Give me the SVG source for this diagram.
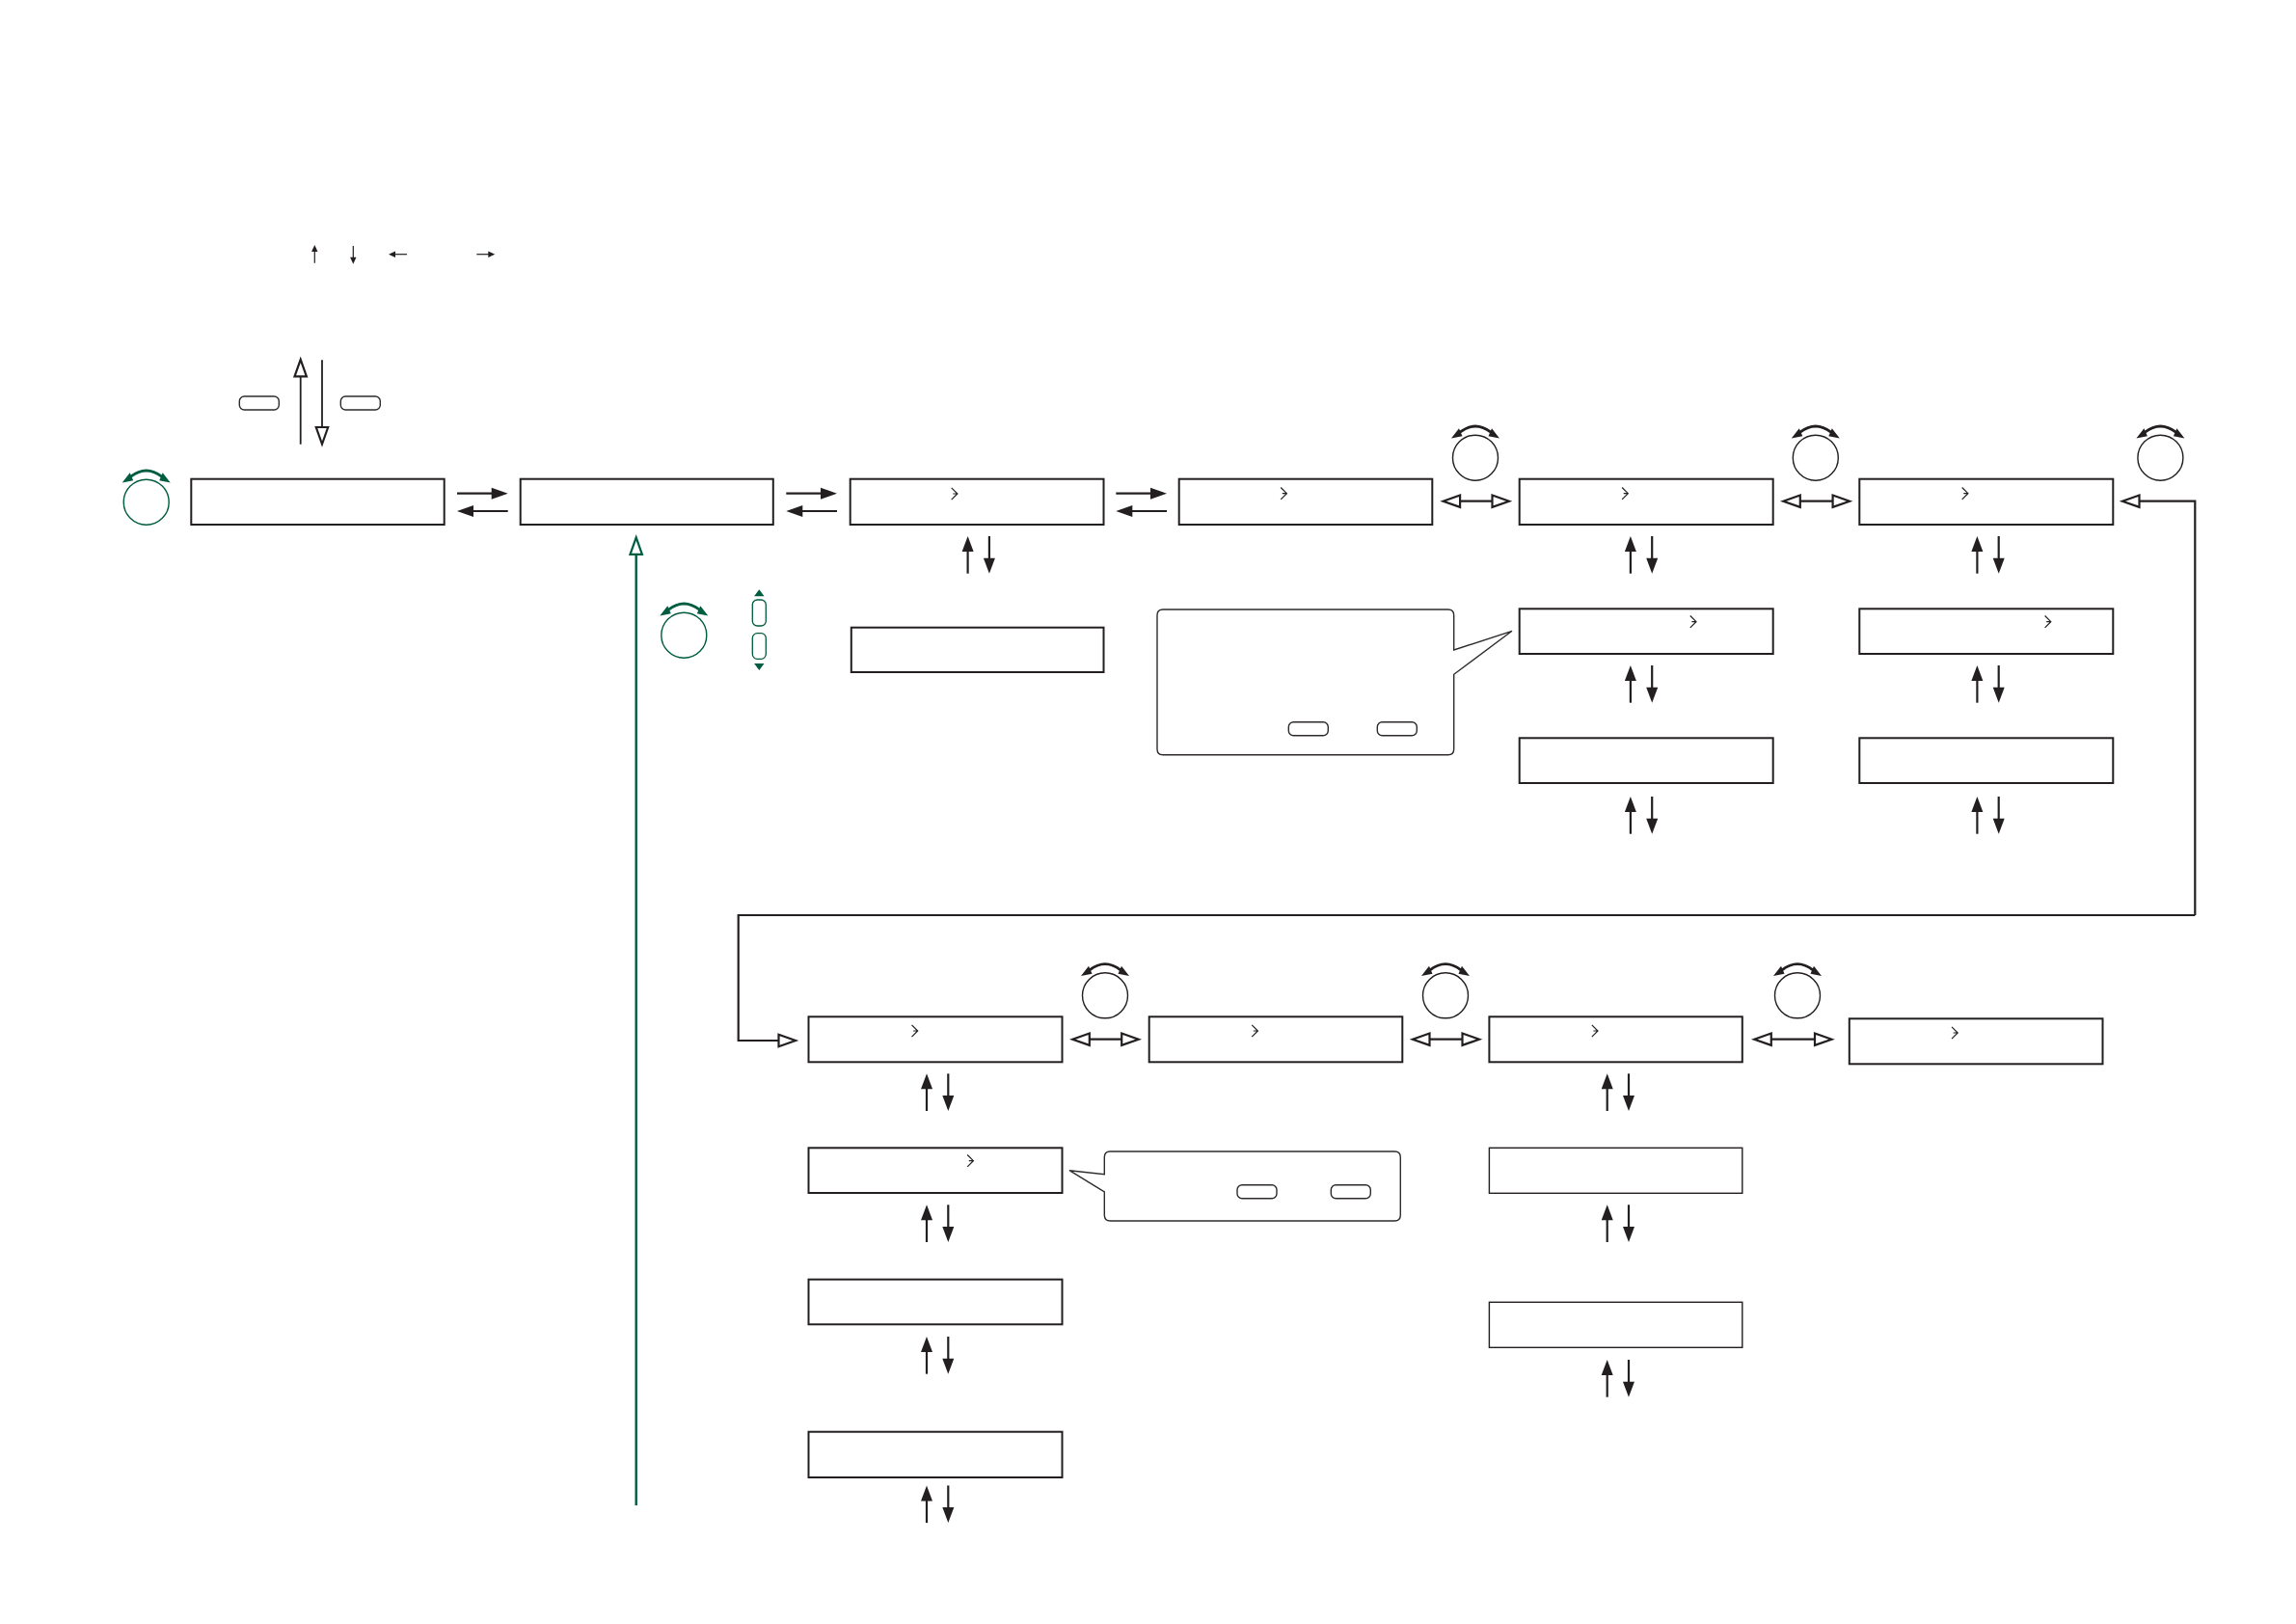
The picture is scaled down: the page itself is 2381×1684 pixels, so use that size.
<svg xmlns="http://www.w3.org/2000/svg" width="2381" height="1684" viewBox="0 0 2381 1684">
<style>
.box{fill:#fff;stroke:#231f20;stroke-width:2}
.box.thin{stroke-width:1.4}
.line{fill:none;stroke:#231f20;stroke-width:2.2}
.thinline{fill:none;stroke:#231f20;stroke-width:1.2}
.outline{fill:#fff;stroke:#2f2b2c;stroke-width:1.4}
.chev{fill:none;stroke:#231f20;stroke-width:1.2}
.green{color:#005c40}
.black{color:#231f20}
.openg{fill:none;stroke:#005c40;stroke-width:2.4}
.btng{fill:#fff;stroke:#005c40;stroke-width:1.3}
</style>
<defs>
<marker id="solid" markerUnits="userSpaceOnUse" markerWidth="30" markerHeight="30" refX="8" refY="0" viewBox="-1 -15 30 30" orient="auto-start-reverse" overflow="visible"><path d="M0,-6 L16,0 L0,6 z" fill="#231f20"/></marker>
<marker id="solidH" markerUnits="userSpaceOnUse" markerWidth="30" markerHeight="30" refX="8" refY="0" viewBox="-1 -15 30 30" orient="auto-start-reverse" overflow="visible"><path d="M0,-6 L17,0 L0,6 z" fill="#231f20"/></marker>
<marker id="tiny" markerUnits="userSpaceOnUse" markerWidth="12" markerHeight="12" refX="3" refY="0" viewBox="-1 -6 12 12" orient="auto-start-reverse" overflow="visible"><path d="M0,-3.2 L7,0 L0,3.2 z" fill="#231f20"/></marker>
<marker id="open" markerUnits="userSpaceOnUse" markerWidth="40" markerHeight="40" refX="0" refY="0" viewBox="-5 -20 40 40" orient="auto-start-reverse" overflow="visible"><path d="M0,-6.2 L17.5,0 L0,6.2 z" fill="#fff" stroke="#231f20" stroke-width="2.2"/></marker>
<marker id="openGreen" markerUnits="userSpaceOnUse" markerWidth="40" markerHeight="40" refX="0" refY="0" viewBox="-5 -20 40 40" orient="auto-start-reverse" overflow="visible"><path d="M0,-6.2 L17.5,0 L0,6.2 z" fill="#fff" stroke="#005c40" stroke-width="2.2"/></marker>
<g id="knob">
<circle r="23.5" fill="#fff" stroke="currentColor" stroke-width="1.4"/>
<path d="M-16,-26.5 Q0,-38.9 16,-26.5" fill="none" stroke="currentColor" stroke-width="2.8"/>
<path d="M-25,-20.2 L-17,-30.5 L-13.5,-22.5 z M25,-20.2 L17,-30.5 L13.5,-22.5 z" fill="currentColor"/>
</g>
<g id="vpair">
<path class="line" d="M0,38.7 V8" marker-end="url(#solid)"/>
<path class="line" d="M22.3,0 V30.7" marker-end="url(#solid)"/>
</g>
<g id="hpair">
<path class="line" d="M0,0 H43.7" marker-end="url(#solidH)"/>
<path class="line" d="M52.7,18.3 H9" marker-end="url(#solidH)"/>
</g>
<path id="chevron" class="chev" d="M-2.8,-6.2 L3.4,0 L-2.8,6.2 M-1.2,0 H3.4"/>
<rect id="hbtn" class="outline" width="41" height="14" rx="5"/>
</defs>

<g id="connectors">
<g id="legend-arrows">
<path class="thinline" d="M326.3,272.7 V258" marker-end="url(#tiny)"/>
<path class="thinline" d="M366.3,255 V269.7" marker-end="url(#tiny)"/>
<path class="thinline" d="M422,263.7 H407" marker-end="url(#tiny)"/>
<path class="thinline" d="M494.3,263.7 H509.3" marker-end="url(#tiny)"/>
</g>
<path class="line" style="stroke-width:1.8" d="M311.7,460.7 V390.3" marker-end="url(#open)"/>
<path class="line" style="stroke-width:1.8" d="M334,373.3 V443" marker-end="url(#open)"/>
<use href="#hpair" x="474" y="511.7"/>
<use href="#hpair" x="815.3" y="511.7"/>
<use href="#hpair" x="1157.3" y="511.7"/>
<path class="line" d="M1514.1,519.7 H1547.5" marker-start="url(#open)" marker-end="url(#open)"/>
<path class="line" d="M1866.8,519.7 H1900.6" marker-start="url(#open)" marker-end="url(#open)"/>
<path class="line" d="M2276.3,949 V519.7 H2218.5" marker-end="url(#open)"/>
<path class="line" d="M2276.3,949 H765.7 V1079 H807.5" marker-end="url(#open)"/>
<path class="openg" d="M659.7,1561 V574.8" marker-end="url(#openGreen)"/>
<path class="line" d="M1129.8,1077.7 H1163.2" marker-start="url(#open)" marker-end="url(#open)"/>
<path class="line" d="M1482.5,1077.7 H1516.5" marker-start="url(#open)" marker-end="url(#open)"/>
<path class="line" d="M1836.8,1077.7 H1882" marker-start="url(#open)" marker-end="url(#open)"/>
<use href="#vpair" x="1003.6" y="556"/>
<use href="#vpair" x="1690.9" y="556"/>
<use href="#vpair" x="1690.9" y="690"/>
<use href="#vpair" x="1690.9" y="826"/>
<use href="#vpair" x="2050.4" y="556"/>
<use href="#vpair" x="2050.4" y="690"/>
<use href="#vpair" x="2050.4" y="826"/>
<use href="#vpair" x="961" y="1113.3"/>
<use href="#vpair" x="961" y="1249.3"/>
<use href="#vpair" x="961" y="1386"/>
<use href="#vpair" x="961" y="1540.4"/>
<use href="#vpair" x="1666.7" y="1113.3"/>
<use href="#vpair" x="1666.7" y="1249.3"/>
<use href="#vpair" x="1666.7" y="1410"/>
</g>

<g id="legend-buttons">
<use href="#hbtn" x="248.3" y="411"/>
<use href="#hbtn" x="353.3" y="411"/>
</g>
<g id="knob-main" class="green"><use href="#knob" x="151.7" y="520.7"/></g>
<g id="knob-green" class="green"><use href="#knob" x="709.3" y="658.7"/></g>
<g id="updown-buttons">
<rect class="btng" x="780.3" y="622" width="14" height="27" rx="5"/>
<rect class="btng" x="780.3" y="656.7" width="14" height="26.6" rx="5"/>
<path d="M787.3,611.3 L792.5,618.3 H782.1 z M787.3,695 L792.5,688 H782.1 z" fill="#005c40"/>
</g>
<g id="knob-1" class="black"><use href="#knob" x="1530" y="474.7"/></g>
<g id="knob-2" class="black"><use href="#knob" x="1882.8" y="474.7"/></g>
<g id="knob-3" class="black"><use href="#knob" x="2240.4" y="474.7"/></g>
<g id="knob-4" class="black"><use href="#knob" x="1146" y="1032.3"/></g>
<g id="knob-5" class="black"><use href="#knob" x="1499" y="1032.3"/></g>
<g id="knob-6" class="black"><use href="#knob" x="1864" y="1032.3"/></g>

<g id="n1"><rect class="box" x="198.3" y="496.7" width="262.4" height="47.3"/></g>
<g id="n2"><rect class="box" x="539.7" y="496.7" width="262.1" height="47.3"/></g>
<g id="n3"><rect class="box" x="881.7" y="496.7" width="262.8" height="47.3"/><use href="#chevron" x="989.5" y="512"/></g>
<g id="n3b"><rect class="box" x="882.8" y="650.7" width="261.7" height="46.3"/></g>
<g id="n4"><rect class="box" x="1222.7" y="496.7" width="262.6" height="47.3"/><use href="#chevron" x="1331" y="511.7"/></g>
<g id="n5"><rect class="box" x="1575.7" y="496.7" width="263" height="47.3"/><use href="#chevron" x="1684.9" y="511.7"/></g>
<g id="n5b"><rect class="box" x="1575.7" y="631.3" width="263" height="46.7"/><use href="#chevron" x="1755.6" y="644.7"/></g>
<g id="n5c"><rect class="box" x="1575.7" y="765.3" width="263" height="46.7"/></g>
<g id="n6"><rect class="box" x="1928.3" y="496.7" width="263" height="47.3"/><use href="#chevron" x="2037.5" y="511.7"/></g>
<g id="n6b"><rect class="box" x="1928.3" y="631.3" width="263" height="46.7"/><use href="#chevron" x="2123.4" y="644.7"/></g>
<g id="n6c"><rect class="box" x="1928.3" y="765.3" width="263" height="46.7"/></g>

<g id="r1"><rect class="box" x="838.5" y="1054.3" width="263" height="47"/><use href="#chevron" x="948.3" y="1069"/></g>
<g id="r1b"><rect class="box" x="838.5" y="1190.3" width="263" height="46.7"/><use href="#chevron" x="1006" y="1203.7"/></g>
<g id="r1c"><rect class="box" x="838.5" y="1326.7" width="263" height="46.6"/></g>
<g id="r1d"><rect class="box" x="838.5" y="1484.7" width="263" height="47.3"/></g>
<g id="r2"><rect class="box" x="1191.7" y="1054.3" width="262.6" height="47"/><use href="#chevron" x="1301" y="1069"/></g>
<g id="r3"><rect class="box" x="1544.4" y="1054.3" width="262.4" height="47"/><use href="#chevron" x="1653.6" y="1069"/></g>
<g id="r3b"><rect class="box thin" x="1544.4" y="1190.3" width="262.4" height="47"/></g>
<g id="r3c"><rect class="box thin" x="1544.4" y="1350.3" width="262.4" height="47"/></g>
<g id="r4"><rect class="box" x="1917.8" y="1056.3" width="262.7" height="47"/><use href="#chevron" x="2026.8" y="1071"/></g>

<g id="callout-1">
<path class="outline" d="M1206,632 H1501.7 Q1507.7,632 1507.7,638 V674 L1568,654.3 L1507.7,699.3 V776.7 Q1507.7,782.7 1501.7,782.7 H1206 Q1200,782.7 1200,776.7 V638 Q1200,632 1206,632 z"/>
<use href="#hbtn" x="1336.3" y="748.7"/>
<use href="#hbtn" x="1428.3" y="748.7"/>
</g>
<g id="callout-2">
<path class="outline" d="M1151.3,1194 H1446.3 Q1452.3,1194 1452.3,1200 V1260 Q1452.3,1266 1446.3,1266 H1151.3 Q1145.3,1266 1145.3,1260 V1236 L1109,1213.7 L1145.3,1217.7 V1200 Q1145.3,1194 1151.3,1194 z"/>
<use href="#hbtn" x="1283" y="1228.7"/>
<use href="#hbtn" x="1380.3" y="1228.7"/>
</g>
</svg>
